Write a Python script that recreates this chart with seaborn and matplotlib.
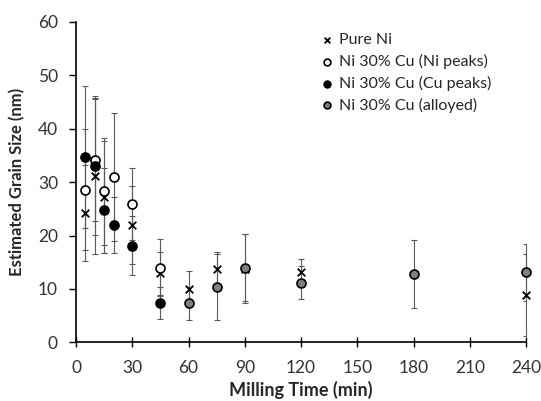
import matplotlib
matplotlib.use("Agg")
import matplotlib.pyplot as plt
import seaborn as sns
import pandas as pd

# Milling times (min) and estimated grain sizes (nm) with error bars
pure_t = [5, 10, 15, 30, 45, 60, 75, 90, 120, 240]
pure_y = [24.2, 31.1, 27.2, 22.0, 12.9, 10.0, 13.7, 13.8, 13.1, 8.9]
pure_e = [9.0, 14.5, 10.5, 7.3, 4.0, 3.4, 3.3, 6.5, 2.5, 7.7]

nipk_t = [5, 10, 15, 20, 30, 45]
nipk_y = [28.6, 34.2, 28.3, 30.9, 25.9, 14.0]
nipk_e = [11.3, 11.5, 10.0, 12.0, 6.7, 5.3]

cupk_t = [5, 10, 15, 20, 30, 45]
cupk_y = [34.8, 33.1, 24.7, 22.0, 18.1, 7.3]
cupk_e = [13.3, 13.0, 8.0, 5.2, 5.5, 3.0]

allo_t = [60, 75, 90, 120, 180, 240]
allo_y = [7.3, 10.4, 14.0, 11.2, 12.8, 13.1]
allo_e = [3.1, 6.2, 6.3, 3.1, 6.4, 5.3]

x_ticks = [0, 30, 60, 90, 120, 150, 180, 210, 240]
y_ticks = [0, 10, 20, 30, 40, 50, 60]

sns.set_style("ticks")
plt.rcParams["font.family"] = ["Lato", "DejaVu Sans"]

fig = plt.figure(figsize=(5.41, 4.01), dpi=100)
ax = fig.add_axes([76 / 541, 1 - 342.3 / 401, 450 / 541, 320.3 / 401])

series = [
    ("Pure Ni", pure_t, pure_y, pure_e, "x", "black", "black", 30),
    ("Ni 30% Cu (Ni peaks)", nipk_t, nipk_y, nipk_e, "o", "white", "black", 42),
    ("Ni 30% Cu (Cu peaks)", cupk_t, cupk_y, cupk_e, "o", "black", "black", 42),
    ("Ni 30% Cu (alloyed)", allo_t, allo_y, allo_e, "o", "#808080", "black", 42),
]

for name, t, y, e, mk, fc, ec, sz in series:
    ax.errorbar(t, y, yerr=e, fmt="none", ecolor="#5a5a5a", elinewidth=0.8,
                capsize=2, capthick=0.8, zorder=1)

for name, t, y, e, mk, fc, ec, sz in series:
    df = pd.DataFrame({"t": t, "y": y})
    if mk == "x":
        sns.scatterplot(data=df, x="t", y="y", marker="x", color="black",
                        s=sz, linewidth=1.3, ax=ax, label=name, zorder=3)
    else:
        sns.scatterplot(data=df, x="t", y="y", marker="o", color=fc,
                        edgecolor=ec, s=sz, linewidth=1.2, ax=ax,
                        label=name, zorder=3)

ax.set_xlim(0, 240)
ax.set_ylim(0, 60)
ax.set_xticks(x_ticks)
ax.set_yticks(y_ticks)
ax.tick_params(axis="x", direction="inout", length=7, width=1, labelsize=12.5,
               colors="black", pad=9)
ax.tick_params(axis="y", direction="out", length=5, width=1, labelsize=12.5,
               colors="black", pad=8)
for lab in ax.get_xticklabels() + ax.get_yticklabels():
    lab.set_color("#333333")

for side in ["top", "right"]:
    ax.spines[side].set_visible(False)
for side in ["left", "bottom"]:
    ax.spines[side].set_linewidth(1.2)
    ax.spines[side].set_color("black")
    ax.spines[side].set_zorder(5)
for coll in ax.collections:
    coll.set_clip_on(False)

ax.set_xlabel("Milling Time (min)", fontsize=13, fontweight="bold")
ax.set_ylabel("Estimated Grain Size (nm)", fontsize=12, fontweight="bold")
ax.xaxis.set_label_coords(0.5, -0.122)
ax.yaxis.set_label_coords(-0.112, 0.5)

leg = ax.legend(loc="upper left", bbox_to_anchor=(0.525, 0.985), frameon=False,
                fontsize=11.5, handletextpad=0.25, labelspacing=0.42,
                handlelength=1.0, borderaxespad=0.0, markerscale=0.75)

fig.savefig("out.png", dpi=100)
